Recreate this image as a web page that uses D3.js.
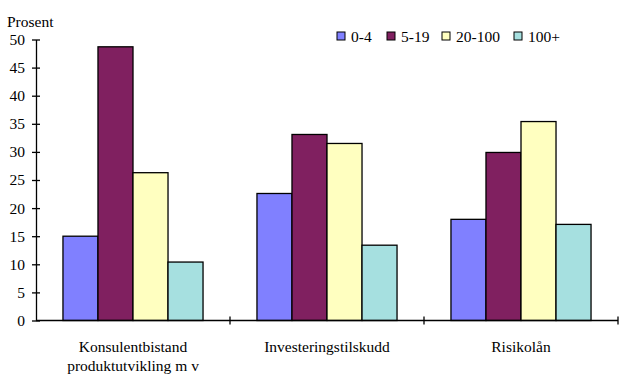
<!DOCTYPE html>
<meta charset="utf-8">
<script src="https://d3js.org/d3.v7.min.js"></script>
<html>
<head>
<style>
body { margin: 0; background: #fff; }
svg text { font-family: "Liberation Serif", "DejaVu Serif", serif; }
</style>
</head>
<body>
<svg id="chart" width="623" height="384"></svg>
<script>

// data
var categories = ["Konsulentbistand\nproduktutvikling m v", "Investeringstilskudd", "Risikolån"];
var seriesNames = ["0-4", "5-19", "20-100", "100+"];
var s0_4 = [15.0, 22.6, 18.0];
var s5_19 = [48.7, 33.1, 29.9];
var s20_100 = [26.3, 31.5, 35.4];
var s100p = [10.4, 13.4, 17.1];
var yTicks = [0, 5, 10, 15, 20, 25, 30, 35, 40, 45, 50];
var colors = ["#8080FF", "#802060", "#FFFFC0", "#A6E0E0"];

var values = [s0_4, s5_19, s20_100, s100p];
var fontSize = 15.5;

var svg = d3.select("#chart");
var plotLeft = 36, plotRight = 618, plotTop = 39.5, plotBottom = 320.5;

var x = d3.scaleBand().domain(categories).range([plotLeft, plotRight]).paddingInner(0).paddingOuter(0);
var inner = d3.scaleBand().domain(seriesNames).range([0, x.bandwidth()]).paddingOuter(0.77).paddingInner(0);
var y = d3.scaleLinear().domain([0, 50]).range([plotBottom, plotTop]);

// bars
categories.forEach(function(c, ci) {
  svg.append("g")
    .selectAll("rect")
    .data(seriesNames)
    .enter()
    .append("rect")
      .attr("x", function(s) { return x(c) + inner(s); })
      .attr("y", function(s, si) { return y(values[si][ci]); })
      .attr("width", inner.bandwidth())
      .attr("height", function(s, si) { return plotBottom - y(values[si][ci]); })
      .attr("fill", function(s, si) { return colors[si]; })
      .attr("stroke", "#000")
      .attr("stroke-width", 1.3);
});

// y axis
var yAxis = svg.append("g")
  .attr("transform", "translate(" + plotLeft + ",0)")
  .call(d3.axisLeft(y).tickValues(yTicks).tickSize(4).tickSizeOuter(0));
yAxis.attr("font-family", null);
yAxis.select(".domain").attr("stroke", "#000").attr("stroke-width", 1.3);
yAxis.selectAll(".tick line").attr("x1", 4).attr("x2", -4).attr("stroke-width", 1.3);
yAxis.selectAll(".tick text").attr("x", -11).attr("font-size", fontSize).attr("fill", "#000");

// x axis line and ticks
svg.append("line")
  .attr("x1", plotLeft).attr("x2", plotRight)
  .attr("y1", plotBottom).attr("y2", plotBottom)
  .attr("stroke", "#000").attr("stroke-width", 1.3);
var xTickPos = categories.map(function(c) { return x(c); }).concat([plotRight]);
svg.selectAll(".xtick")
  .data(xTickPos.slice(1))
  .enter()
  .append("line")
    .attr("x1", function(d) { return d; }).attr("x2", function(d) { return d; })
    .attr("y1", plotBottom - 4).attr("y2", plotBottom + 4)
    .attr("stroke", "#000").attr("stroke-width", 1.3);

// category labels
categories.forEach(function(c) {
  var t = svg.append("text")
    .attr("text-anchor", "middle")
    .attr("font-size", fontSize)
    .attr("fill", "#000");
  c.split("\n").forEach(function(line, i) {
    t.append("tspan")
      .attr("x", x(c) + x.bandwidth() / 2)
      .attr("y", 352 + i * 19)
      .text(line);
  });
});

// y title
svg.append("text")
  .attr("x", 7).attr("y", 26.5)
  .attr("font-size", fontSize)
  .text("Prosent");

// legend
var legendX = [337, 387, 442, 514];
var legend = svg.append("g");
seriesNames.forEach(function(s, i) {
  legend.append("rect")
    .attr("x", legendX[i]).attr("y", 32)
    .attr("width", 8).attr("height", 8)
    .attr("fill", colors[i])
    .attr("stroke", "#000").attr("stroke-width", 1);
  legend.append("text")
    .attr("x", legendX[i] + 14).attr("y", 41.5)
    .attr("font-size", fontSize)
    .text(s);
});

</script>
</body>
</html>
